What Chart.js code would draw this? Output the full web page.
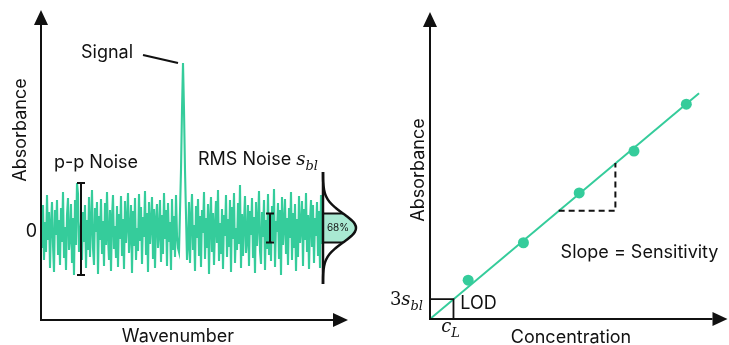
<!DOCTYPE html>
<html>
<head>
<meta charset="utf-8">
<script src="https://cdn.jsdelivr.net/npm/chart.js@4"></script>
<style>
  html, body { margin: 0; padding: 0; background: #fff; }
  #wrap { position: relative; width: 729px; height: 345px; overflow: hidden; }
  #noiseChart { position: absolute; left: 0; top: 0; }
  #calChart { position: absolute; left: 370px; top: 0; }
</style>
</head>
<body>
<div id="wrap">
  <canvas id="noiseChart" width="370" height="345"></canvas>
  <canvas id="calChart" width="359" height="345"></canvas>
</div>
<script>
const GREEN = "#35cc9b";
const BAND = "#a9e9d2";
const INK = "#111";
const SANS = "Inter, 'Open Sans', sans-serif";
const SERIF = "'DejaVu Serif', 'Liberation Serif', serif";
const FS = 18;

// Espectro: ruido de línea base a ambos lados del pico
const noiseLeft = [
  12, -18, 25, -30, 8, -22, 35, -10, 18, -38, 5, 28, -15, -42, 20, -5, 30, -25, 10, -35,
  22, -12, 38, -28, 3, -40, 15, 32, -20, -8, 26, -33, 12, -45, 30, -15, 47, 36, -22, -5,
  8, -30, 18, -12, 25, -38, 10, -20, 33, -27, 6, 40, -18, -35, 22, -2, 28, -44, 14, -10,
  31, -24, 9, -36, 27, -15, 38, -6, -30, 20, -41, 12, 35, -19, 4, -28, 24, -37, 16, -9,
  34, -26, 11, -39, 29, -13, 7, 37, -23, -4, 25, -43, 19, -16, 32, -30, 2, -21, 36, -11,
  23, -34, 13, -7, 39, -25, 17, -42, 28, -14, 6, 33, -29, 21, -38, 10, 26, -18, -3, 30,
  -32, 15, -24, 37, -9, 20, -36, 27, -12, 8, -40, 31, -20, 14, -27, 35, -6, -18
];
const peakX = [138, 140, 141, 142, 143, 144, 146];
const peakY = [-22, 60, 120, 167, 120, 60, -30];
const noiseRight = [
  -15, 28, -33, 10, 36, -20, 5, -41, 24, -8, 31, -26, 14, -37, 20, -3, 38, -29, 12, -18,
  26, -44, 9, 33, -22, 17, -35, 4, 29, -13, 40, -31, 7, -24, 21, -39, 15, -6, 35, -27,
  11, -17, 30, -42, 23, -9, 37, -33, 2, -20, 27, -14, 45, -38, 16, -26, 8, 34, -23, -10,
  25, -36, 19, -5, 32, -28, 13, -43, 28, -16, 6, 39, -21, -34, 18, -7, 30, -40, 10, -19,
  36, -25, 14, -31, 24, -11, 41, -37, 9, -2, 27, -29, 20, -45, 33, -15, 5, 31, -24, 12,
  -35, 22, -8, 38, -30, 17, -18, 26, -41, 11, -27, 34, -13, 3, 29, -36, 21, -10, 37, -22,
  15, -39, 8, 30, -17, 25, -33, 12, -6, 28, -26, 19, -38, 35, -14
];
const rightStart = 147;

// Distribución del ruido (gaussiana girada) y barras de ruido
const gaussBase = 282;
const gaussLevels = [58, 48, 40, 34, 28, 22, 16.5, 13.5, 10, 6, 2, -2, -6, -9.5, -12.5, -18, -24, -30, -36, -44, -54];
const gaussWidth = [0, 0.2, 1.1, 2.9, 6.6, 12.8, 20, 24.1, 28.3, 31.8, 33, 31.8, 28.3, 24.1, 20, 12.8, 6.6, 2.9, 1.1, 0.2, 0];
const ppBar = [47, -45];
const rmsBar = [16.5, -12.5];
const ppAt = 40;
const rmsAt = 229;

// Curva de calibración
const concentration = [0.78, 1.91, 3.05, 4.17, 5.24];
const absorbance = [0.78, 1.53, 2.53, 3.37, 4.31];
const fitX = [0, 5.5];
const fitY = [0, 4.53];
const slopeRun = [2.63, 3.79];
const slopeRise = [2.17, 3.13];
const lodC = 0.48;
const lod3s = 0.40;

const spectrum = [
  ...noiseLeft.map((y, i) => ({ x: i, y })),
  ...peakX.map((x, i) => ({ x, y: peakY[i] })),
  ...noiseRight.map((y, i) => ({ x: rightStart + i, y }))
];
const gauss = gaussLevels.map((y, i) => ({ x: gaussBase + gaussWidth[i], y }));
const calPoints = concentration.map((x, i) => ({ x, y: absorbance[i] }));
const fitLine = fitX.map((x, i) => ({ x, y: fitY[i] }));

function label(ctx, str, x, y, size, align) {
  ctx.font = `${size}px ${SANS}`;
  ctx.textAlign = align || "center";
  ctx.textBaseline = "middle";
  ctx.fillStyle = INK;
  ctx.fillText(str, x, y);
}

function vLabel(ctx, str, x, y, size) {
  ctx.save();
  ctx.translate(x, y);
  ctx.rotate(-Math.PI / 2);
  label(ctx, str, 0, 0, size);
  ctx.restore();
}

// texto matemático: prefijo recto, símbolo en cursiva y subíndice
function mathLabel(ctx, pre, base, sub, x, y, size, align) {
  const subSize = size * 0.72;
  ctx.font = `${size}px ${SERIF}`;
  const wp = ctx.measureText(pre).width;
  ctx.font = `italic ${size}px ${SERIF}`;
  const wb = ctx.measureText(base).width;
  ctx.font = `italic ${subSize}px ${SERIF}`;
  const ws = ctx.measureText(sub).width;
  const total = wp + wb + ws;
  let x0 = x;
  if (align === "right") x0 = x - total;
  if (align === "center") x0 = x - total / 2;
  ctx.textAlign = "left";
  ctx.textBaseline = "alphabetic";
  ctx.fillStyle = INK;
  ctx.font = `${size}px ${SERIF}`;
  ctx.fillText(pre, x0, y);
  ctx.font = `italic ${size}px ${SERIF}`;
  ctx.fillText(base, x0 + wp, y);
  ctx.font = `italic ${subSize}px ${SERIF}`;
  ctx.fillText(sub, x0 + wp + wb, y + size * 0.25);
}

function axes(ctx, area, tipX, tipY) {
  const head = 15, half = 7;
  ctx.save();
  ctx.strokeStyle = INK;
  ctx.fillStyle = INK;
  ctx.lineWidth = 2;
  ctx.beginPath();
  ctx.moveTo(area.left, tipY + head);
  ctx.lineTo(area.left, area.bottom);
  ctx.lineTo(tipX - head, area.bottom);
  ctx.stroke();
  ctx.beginPath();
  ctx.moveTo(area.left, tipY);
  ctx.lineTo(area.left - half, tipY + head);
  ctx.lineTo(area.left + half, tipY + head);
  ctx.closePath();
  ctx.fill();
  ctx.beginPath();
  ctx.moveTo(tipX, area.bottom);
  ctx.lineTo(tipX - head, area.bottom - half);
  ctx.lineTo(tipX - head, area.bottom + half);
  ctx.closePath();
  ctx.fill();
  ctx.restore();
}

function errorBar(ctx, px, top, bottom) {
  ctx.save();
  ctx.strokeStyle = INK;
  ctx.lineWidth = 2;
  ctx.beginPath();
  ctx.moveTo(px, top); ctx.lineTo(px, bottom);
  ctx.moveTo(px - 4, top); ctx.lineTo(px + 4, top);
  ctx.moveTo(px - 4, bottom); ctx.lineTo(px + 4, bottom);
  ctx.stroke();
  ctx.restore();
}

const noiseDecor = {
  id: "noiseDecor",
  beforeDatasetsDraw(chart) {
    const { ctx, scales: { x, y } } = chart;
    // banda del 68 % bajo la gaussiana
    const x0 = x.getPixelForValue(gaussBase);
    const yTop = y.getPixelForValue(rmsBar[0]);
    const yBot = y.getPixelForValue(rmsBar[1]);
    ctx.save();
    ctx.beginPath();
    ctx.moveTo(x0, yTop);
    gaussLevels.forEach((lv, i) => {
      if (lv <= rmsBar[0] && lv >= rmsBar[1]) {
        ctx.lineTo(x.getPixelForValue(gaussBase + gaussWidth[i]), y.getPixelForValue(lv));
      }
    });
    ctx.lineTo(x0, yBot);
    ctx.closePath();
    ctx.fillStyle = BAND;
    ctx.fill();
    ctx.restore();
  },
  afterDraw(chart) {
    const { ctx, chartArea: area, scales: { x, y } } = chart;
    axes(ctx, area, area.right, area.top);

    const x0 = x.getPixelForValue(gaussBase);
    const iTop = gaussLevels.indexOf(rmsBar[0]);
    const iBot = gaussLevels.indexOf(rmsBar[1]);
    ctx.save();
    ctx.strokeStyle = INK;
    ctx.lineWidth = 2.5;
    ctx.beginPath();
    ctx.moveTo(x0, y.getPixelForValue(gaussLevels[0]));
    ctx.lineTo(x0, y.getPixelForValue(gaussLevels[gaussLevels.length - 1]));
    ctx.stroke();
    ctx.lineWidth = 2;
    ctx.beginPath();
    ctx.moveTo(x0, y.getPixelForValue(rmsBar[0]));
    ctx.lineTo(x.getPixelForValue(gaussBase + gaussWidth[iTop]), y.getPixelForValue(rmsBar[0]));
    ctx.moveTo(x0, y.getPixelForValue(rmsBar[1]));
    ctx.lineTo(x.getPixelForValue(gaussBase + gaussWidth[iBot]), y.getPixelForValue(rmsBar[1]));
    ctx.stroke();
    // línea guía hacia el pico
    ctx.lineWidth = 2;
    ctx.beginPath();
    ctx.moveTo(x.getPixelForValue(102), y.getPixelForValue(175));
    ctx.lineTo(x.getPixelForValue(137), y.getPixelForValue(167));
    ctx.stroke();
    ctx.restore();

    label(ctx, "68%", x0 + 15, y.getPixelForValue(2), 10);

    errorBar(ctx, x.getPixelForValue(ppAt), y.getPixelForValue(ppBar[0]), y.getPixelForValue(ppBar[1]));
    errorBar(ctx, x.getPixelForValue(rmsAt), y.getPixelForValue(rmsBar[0]), y.getPixelForValue(rmsBar[1]));

    label(ctx, "Signal", x.getPixelForValue(66), y.getPixelForValue(177), FS);
    label(ctx, "p-p Noise", x.getPixelForValue(55), y.getPixelForValue(67), FS);
    label(ctx, "RMS Noise", x.getPixelForValue(157), y.getPixelForValue(70), FS, "left");
    ctx.font = `${FS}px ${SANS}`;
    const wRms = ctx.measureText("RMS Noise ").width;
    mathLabel(ctx, "", "s", "bl", x.getPixelForValue(157) + wRms, y.getPixelForValue(70) + 5, 18, "left");
    label(ctx, "0", area.left - 4, y.getPixelForValue(-2), FS, "right");
    vLabel(ctx, "Absorbance", 21, 130, FS);
    label(ctx, "Wavenumber", 178, 337, FS);
  }
};

const calDecor = {
  id: "calDecor",
  afterDraw(chart) {
    const { ctx, chartArea: area, scales: { x, y } } = chart;
    axes(ctx, area, area.right + 4, area.top);

    ctx.save();
    ctx.strokeStyle = INK;
    ctx.lineWidth = 2;
    // triángulo de pendiente
    ctx.setLineDash([6, 4]);
    ctx.beginPath();
    ctx.moveTo(x.getPixelForValue(slopeRun[0]), y.getPixelForValue(slopeRise[0]));
    ctx.lineTo(x.getPixelForValue(slopeRun[1]), y.getPixelForValue(slopeRise[0]));
    ctx.lineTo(x.getPixelForValue(slopeRun[1]), y.getPixelForValue(slopeRise[1]));
    ctx.stroke();
    // recuadro del límite de detección
    ctx.setLineDash([]);
    ctx.lineWidth = 1.8;
    ctx.beginPath();
    ctx.moveTo(area.left, y.getPixelForValue(lod3s));
    ctx.lineTo(x.getPixelForValue(lodC), y.getPixelForValue(lod3s));
    ctx.lineTo(x.getPixelForValue(lodC), area.bottom);
    ctx.stroke();
    ctx.restore();

    label(ctx, "Slope = Sensitivity", x.getPixelForValue(2.67), y.getPixelForValue(1.34), FS, "left");
    label(ctx, "LOD", x.getPixelForValue(0.62), y.getPixelForValue(0.30), FS, "left");
    mathLabel(ctx, "3", "s", "bl", area.left - 7, y.getPixelForValue(lod3s) + 6, 18, "right");
    mathLabel(ctx, "", "c", "L", x.getPixelForValue(lodC) - 3, area.bottom + 13, 18, "center");
    vLabel(ctx, "Absorbance", 49, 170, FS);
    label(ctx, "Concentration", 201, 338, FS);
  }
};

const common = {
  responsive: false,
  animation: false,
  events: [],
  plugins: { legend: { display: false }, tooltip: { enabled: false } }
};

new Chart(document.getElementById("noiseChart"), {
  type: "line",
  data: {
    datasets: [
      { data: spectrum, borderColor: GREEN, borderWidth: 2.1, pointRadius: 0, tension: 0 },
      { data: gauss, borderColor: INK, borderWidth: 2.5, pointRadius: 0, tension: 0.4, clip: false }
    ]
  },
  options: {
    ...common,
    layout: { padding: { left: 41, right: 22, top: 10, bottom: 25 } },
    scales: {
      x: { type: "linear", display: false, min: 0, max: 307 },
      y: { type: "linear", display: false, min: -90, max: 220 }
    }
  },
  plugins: [noiseDecor]
});

new Chart(document.getElementById("calChart"), {
  type: "line",
  data: {
    datasets: [
      { data: fitLine, borderColor: GREEN, borderWidth: 2, pointRadius: 0 },
      { data: calPoints, showLine: false, pointRadius: 5.5, pointBackgroundColor: GREEN, pointBorderWidth: 0, clip: false }
    ]
  },
  options: {
    ...common,
    layout: { padding: { left: 60, right: 0, top: 12, bottom: 26 } },
    scales: {
      x: { type: "linear", display: false, min: 0, max: 6 },
      y: { type: "linear", display: false, min: 0, max: 6.16 }
    }
  },
  plugins: [calDecor]
});
</script>
</body>
</html>
